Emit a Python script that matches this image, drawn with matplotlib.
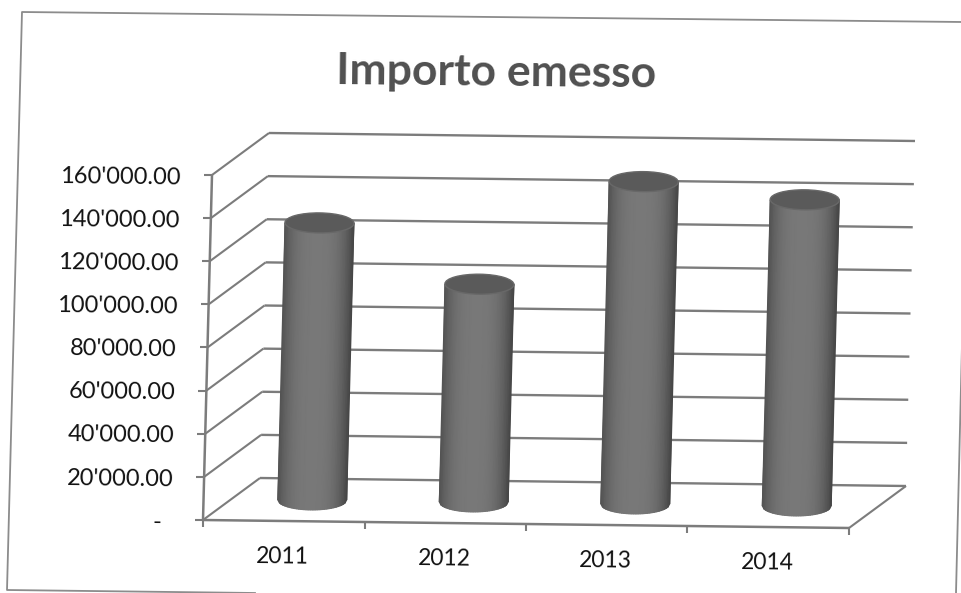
import matplotlib
matplotlib.use("Agg")
import matplotlib.pyplot as plt
import numpy as np
from matplotlib.patches import Ellipse
from matplotlib.transforms import Affine2D, IdentityTransform

plt.rcParams['font.family'] = ['Lato', 'DejaVu Sans']

years = ["2011", "2012", "2013", "2014"]
importo = [128500, 101000, 149500, 142000]
y_ticks = [0, 20000, 40000, 60000, 80000, 100000, 120000, 140000, 160000]
y_labels = ["-", "20'000.00", "40'000.00", "60'000.00", "80'000.00",
            "100'000.00", "120'000.00", "140'000.00", "160'000.00"]

W, H = 962, 593
grid_col = "#7c7c7c"
depth_x, depth_y = 57, 42      # px, how far the back wall sits from the front

fig = plt.figure(figsize=(W / 100, H / 100), dpi=100)
ax = fig.add_axes([203 / W, (H - 520) / H, 646 / W, 345 / H])
ax.set_xlim(0, 4)
ax.set_ylim(0, 160000)
ax.axis("off")

# scanned page is a bit crooked: shear the data space around the axes origin
ox, oy = 203, H - 520
shear = Affine2D.from_values(1, -8 / 646, 9 / 345, 1, 0, 0)
page = Affine2D().translate(-ox, -oy) + shear + Affine2D().translate(ox, oy)
front = ax.transData + page
back = front + Affine2D().translate(depth_x, depth_y)
middle = front + Affine2D().translate(depth_x / 2, depth_y / 2)


def disp_line(p, q, **kw):
    ax.plot([p[0], q[0]], [p[1], q[1]], transform=IdentityTransform(),
            clip_on=False, solid_capstyle="butt", **kw)


# walls and floor
for v in y_ticks:
    disp_line(front.transform((0, v)), back.transform((0, v)), color=grid_col, lw=1.5)
    disp_line(back.transform((0, v)), back.transform((4, v)), color=grid_col, lw=1.7)
    a = front.transform((0, v))
    disp_line((a[0] - 8, a[1]), a, color=grid_col, lw=1.5)
disp_line(front.transform((0, 0)), front.transform((0, 160000)), color=grid_col, lw=1.8)
disp_line(front.transform((0, 0)), front.transform((4, 0)), color=grid_col, lw=1.8)
disp_line(front.transform((4, 0)), back.transform((4, 0)), color=grid_col, lw=1.5)
for c in range(5):
    a = front.transform((c, 0))
    disp_line(a, (a[0], a[1] - 7), color=grid_col, lw=1.5)

# cylinders, shaded across their width
half_w, half_h = 34.5, 10
u = np.linspace(-1, 1, 41)
sag = half_h * np.sqrt(1 - u * u)
shade = 0.30 + 0.17 * (1 - np.abs(u + 0.05) ** 3)
for i, val in enumerate(importo):
    base = middle.transform((i + 0.5, 0))
    top = middle.transform((i + 0.5, val))
    X = np.vstack([base[0] + u * half_w, top[0] + u * half_w])
    Y = np.vstack([base[1] - sag, np.full_like(u, top[1])])
    ax.pcolormesh(X, Y, np.vstack([shade, shade]), shading="gouraud", cmap="gray",
                  vmin=0, vmax=1, transform=IdentityTransform(), clip_on=False, zorder=3)
    ax.add_patch(Ellipse(top, 2 * half_w, 2 * half_h, angle=-0.7, facecolor="#5a5a5a",
                         edgecolor="#686868", lw=1, transform=IdentityTransform(),
                         clip_on=False, zorder=4))

# tick labels
for v, lab in zip(y_ticks, y_labels):
    a = front.transform((0, v))
    ax.text(a[0] - 31 if v else a[0] - 42, a[1] - 2.5, lab, transform=IdentityTransform(),
            ha="right", va="center", fontsize=17, color="#111111",
            rotation=-0.7, rotation_mode="anchor")
for i, lab in enumerate(years):
    a = front.transform((i + 0.5, 0))
    ax.text(a[0] - 1, a[1] - 36, lab, transform=IdentityTransform(),
            ha="center", va="center", fontsize=16.5, color="#111111",
            rotation=-0.7, rotation_mode="anchor")

fig.text(496 / W, 1 - 73 / H, "Importo emesso", ha="center", va="center",
         fontsize=32, fontweight="bold", color="#505050", rotation=-0.6,
         rotation_mode="anchor")

# outer chart border, cut by the page edge
border_x = [962, 22, 7, 255]
border_y = [22, 12, 590, 593]
fig.add_artist(plt.Line2D(np.array(border_x) / W, 1 - np.array(border_y) / H,
                          color="#8c8c8c", lw=1.3))
fig.add_artist(plt.Line2D(np.array([962, 956]) / W, 1 - np.array([345, 593]) / H,
                          color="#8c8c8c", lw=1.3))

fig.savefig("out.png", dpi=100)
